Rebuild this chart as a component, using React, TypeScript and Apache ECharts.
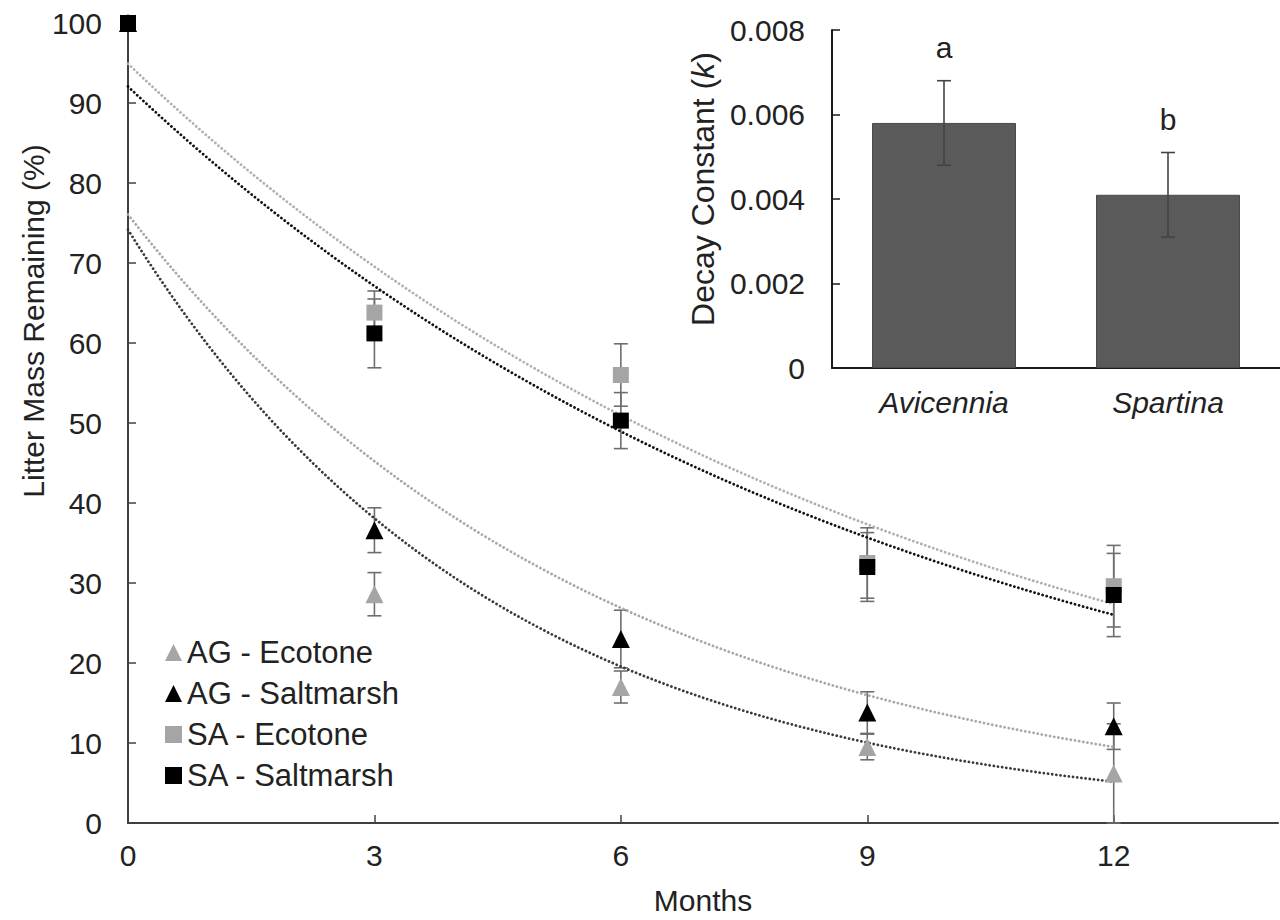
import React, { useEffect, useRef } from 'react';
import * as echarts from 'echarts';

// ---------- data ----------
const months = [0, 3, 6, 9, 12];
const monthTicks = [0, 3, 6, 9, 12];
const seriesNames = ['AG - Ecotone', 'AG - Saltmarsh', 'SA - Ecotone', 'SA - Saltmarsh'];

const agEcotone = [100, 28.6, 17.0, 9.5, 6.2];
const agEcotoneErr = [0, 2.7, 2.0, 1.6, 6.2];
const agSaltmarsh = [100, 36.6, 23.0, 13.8, 12.1];
const agSaltmarshErr = [0, 2.8, 3.6, 2.6, 2.9];
const saEcotone = [100, 63.8, 56.0, 32.5, 29.6];
const saEcotoneErr = [0, 2.7, 3.9, 4.4, 5.1];
const saSaltmarsh = [100, 61.2, 50.3, 32.0, 28.5];
const saSaltmarshErr = [0, 4.3, 3.5, 4.3, 5.2];

const species = ['Avicennia', 'Spartina'];
const decayK = [0.0058, 0.0041];
const decayKErr = [0.001, 0.001];
const sigLetters = ['a', 'b'];

// ---------- helpers ----------
const FONT = 'Liberation Sans, Arial, sans-serif';
const GRAY = '#a5a5a5';
const BLACK = '#000000';
const FS = 30;

// least-squares exponential trendline (as in the spreadsheet), y = a * exp(b x)
function expFit(xs: number[], ys: number[]) {
  const n = xs.length;
  const ls = ys.map((v) => Math.log(v));
  const mx = xs.reduce((s, v) => s + v, 0) / n;
  const ml = ls.reduce((s, v) => s + v, 0) / n;
  let num = 0;
  let den = 0;
  for (let i = 0; i < n; i++) {
    num += (xs[i] - mx) * (ls[i] - ml);
    den += (xs[i] - mx) * (xs[i] - mx);
  }
  const b = num / den;
  const a = Math.exp(ml - b * mx);
  return { a, b };
}

function trendPoints(xs: number[], ys: number[]) {
  const { a, b } = expFit(xs, ys);
  const pts: number[][] = [];
  const x0 = xs[0];
  const x1 = xs[xs.length - 1];
  const steps = 96;
  for (let i = 0; i <= steps; i++) {
    const x = x0 + ((x1 - x0) * i) / steps;
    pts.push([x, a * Math.exp(b * x)]);
  }
  return pts;
}

function errData(xs: number[], ys: number[], es: number[]) {
  return xs.map((x, i) => [x, ys[i] - es[i], ys[i] + es[i]]);
}

function makeErrRender(color: string, halfCap: number, lw: number) {
  return (params: any, api: any) => {
    const x = api.value(0);
    const lo = api.value(1);
    const hi = api.value(2);
    if (hi - lo <= 0) return { type: 'group', children: [] };
    const top = api.coord([x, hi]);
    const bot = api.coord([x, lo]);
    const style = { stroke: color, lineWidth: lw };
    return {
      type: 'group',
      children: [
        { type: 'line', shape: { x1: top[0], y1: top[1], x2: bot[0], y2: bot[1] }, style },
        { type: 'line', shape: { x1: top[0] - halfCap, y1: top[1], x2: top[0] + halfCap, y2: top[1] }, style },
        { type: 'line', shape: { x1: bot[0] - halfCap, y1: bot[1], x2: bot[0] + halfCap, y2: bot[1] }, style },
      ],
    };
  };
}

const groups = [
  { name: seriesNames[0], ys: agEcotone, es: agEcotoneErr, color: GRAY, symbol: 'triangle', size: 18, trend: '#3a3a3a' },
  { name: seriesNames[1], ys: agSaltmarsh, es: agSaltmarshErr, color: BLACK, symbol: 'triangle', size: 18, trend: '#a8a8a8' },
  { name: seriesNames[2], ys: saEcotone, es: saEcotoneErr, color: GRAY, symbol: 'rect', size: 16, trend: '#b0b0b0' },
  { name: seriesNames[3], ys: saSaltmarsh, es: saSaltmarshErr, color: BLACK, symbol: 'rect', size: 16, trend: '#111111' },
];

export default function App() {
  const ref = useRef<HTMLDivElement>(null);

  useEffect(() => {
    if (!ref.current) return;
    const chart = echarts.init(ref.current, undefined, { renderer: 'svg' });

    const series: any[] = [];
    groups.forEach((g) => {
      series.push({
        type: 'custom',
        xAxisIndex: 0,
        yAxisIndex: 0,
        z: 2,
        silent: true,
        renderItem: makeErrRender('#6e6e6e', 7, 1.6),
        encode: { x: 0, y: [1, 2] },
        data: errData(months, g.ys, g.es),
      });
    });
    groups.forEach((g) => {
      series.push({
        type: 'line',
        xAxisIndex: 0,
        yAxisIndex: 0,
        z: 3,
        showSymbol: false,
        silent: true,
        smooth: false,
        lineStyle: { color: g.trend, width: 2.8, type: [0.01, 4.2], cap: 'round' },
        data: trendPoints(months, g.ys),
      });
    });
    groups.forEach((g, gi) => {
      series.push({
        type: 'scatter',
        name: g.name,
        xAxisIndex: 0,
        yAxisIndex: 0,
        z: 5 + gi,
        symbol: g.symbol,
        symbolSize: g.size,
        itemStyle: { color: g.color, opacity: 1 },
        data: months.map((m, i) => [m, g.ys[i]]),
      });
    });

    // inset
    series.push({
      type: 'bar',
      xAxisIndex: 1,
      yAxisIndex: 1,
      z: 2,
      barWidth: 144,
      itemStyle: { color: '#5a5a5a', borderColor: '#4a4a4a', borderWidth: 1 },
      label: {
        show: true,
        position: 'top',
        distance: 60,
        formatter: (p: any) => sigLetters[p.dataIndex],
        fontSize: FS,
        fontFamily: FONT,
        color: '#222',
      },
      data: decayK,
    });
    series.push({
      type: 'custom',
      xAxisIndex: 1,
      yAxisIndex: 1,
      z: 3,
      silent: true,
      renderItem: makeErrRender('#444444', 7, 1.6),
      encode: { x: 0, y: [1, 2] },
      data: decayK.map((v, i) => [i, v - decayKErr[i], v + decayKErr[i]]),
    });

    const axisText = { fontSize: FS, fontFamily: FONT, color: '#222' };

    chart.setOption({
      animation: false,
      backgroundColor: '#ffffff',
      textStyle: { fontFamily: FONT },
      grid: [
        { left: 128, right: 2, top: 23, bottom: 97, containLabel: false },
        { left: 832, right: 0, top: 30, bottom: 552, containLabel: false },
      ],
      xAxis: [
        {
          type: 'value',
          gridIndex: 0,
          min: 0,
          max: 14,
          interval: 3,
          name: 'Months',
          nameLocation: 'middle',
          nameGap: 62,
          nameTextStyle: { ...axisText },
          axisLine: { show: true, lineStyle: { color: '#404040', width: 2 } },
          axisTick: { show: true, inside: true, length: 8, lineStyle: { color: '#404040', width: 1.5 }, customValues: monthTicks },
          axisLabel: { ...axisText, margin: 17, customValues: monthTicks },
          splitLine: { show: false },
        },
        {
          type: 'category',
          gridIndex: 1,
          data: species,
          axisLine: { show: true, lineStyle: { color: '#1a1a1a', width: 2 } },
          axisTick: { show: false },
          axisLabel: { ...axisText, fontStyle: 'italic', margin: 19 },
          splitLine: { show: false },
        },
      ],
      yAxis: [
        {
          type: 'value',
          gridIndex: 0,
          min: 0,
          max: 100,
          interval: 10,
          axisLine: { show: true, lineStyle: { color: '#404040', width: 2 } },
          axisTick: { show: true, inside: true, length: 8, lineStyle: { color: '#404040', width: 1.5 } },
          axisLabel: { ...axisText, margin: 26 },
          splitLine: { show: false },
        },
        {
          type: 'value',
          gridIndex: 1,
          min: 0,
          max: 0.008,
          interval: 0.002,
          axisLine: { show: true, lineStyle: { color: '#1a1a1a', width: 2 } },
          axisTick: { show: true, inside: true, length: 8, lineStyle: { color: '#1a1a1a', width: 1.5 } },
          axisLabel: {
            ...axisText,
            margin: 27,
            formatter: (v: number) => (v === 0 ? '0' : v.toFixed(3)),
          },
          splitLine: { show: false },
        },
      ],
      legend: {
        show: true,
        orient: 'vertical',
        left: 165,
        top: 637,
        padding: 0,
        itemWidth: 17,
        itemHeight: 17,
        itemGap: 10,
        selectedMode: false,
        textStyle: { ...axisText, fontSize: 31 },
        data: groups.map((g) => ({ name: g.name, icon: g.symbol })),
      },
      graphic: [
        {
          type: 'text',
          x: 33,
          y: 321,
          rotation: Math.PI / 2,
          style: {
            text: 'Litter Mass Remaining (%)',
            fontSize: FS,
            fontFamily: FONT,
            fill: '#222',
            align: 'center',
            verticalAlign: 'middle',
          },
        },
        {
          type: 'text',
          x: 703,
          y: 189,
          rotation: Math.PI / 2,
          style: {
            text: '{n|Decay Constant (}{i|k}{n|)}',
            rich: {
              n: { fontSize: 32, fontFamily: FONT, fill: '#222', color: '#222' },
              i: { fontSize: 32, fontFamily: FONT, fontStyle: 'italic', fill: '#222', color: '#222' },
            },
            fill: '#222',
            align: 'center',
            verticalAlign: 'middle',
          },
        },
      ],
      series,
    });

    return () => chart.dispose();
  }, []);

  return (
    <div
      ref={ref}
      style={{ position: 'absolute', left: 0, top: 0, width: 1280, height: 920, background: '#fff' }}
    />
  );
}
